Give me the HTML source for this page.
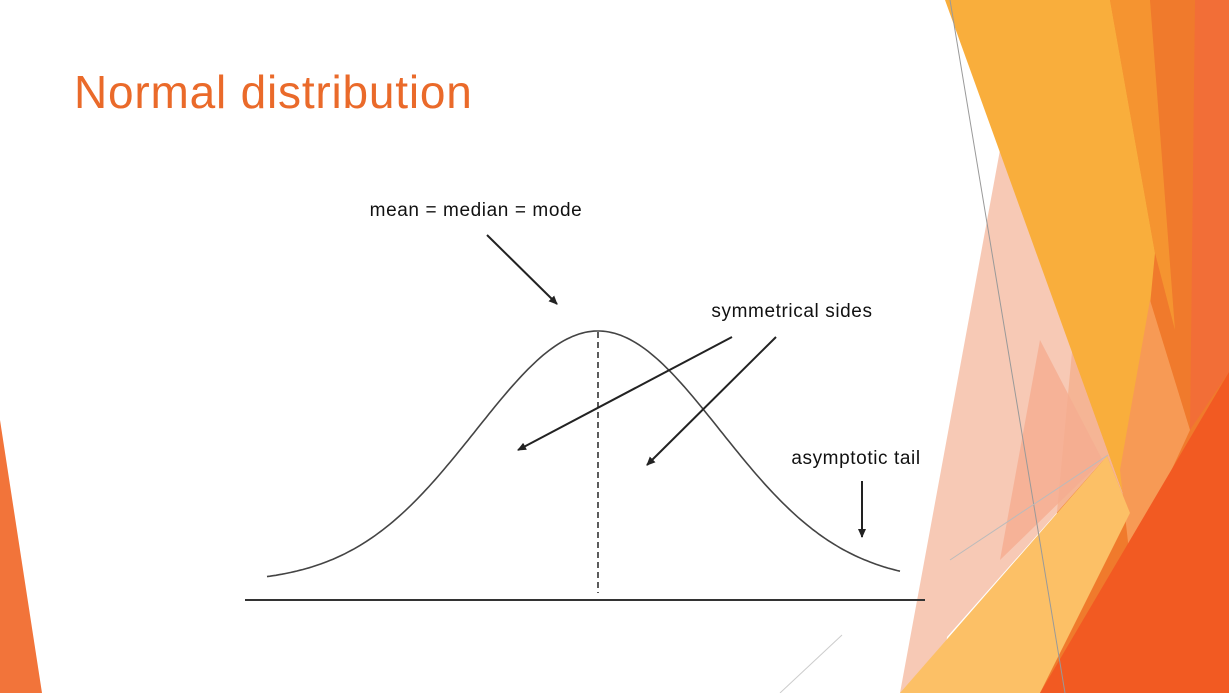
<!DOCTYPE html>
<html><head><meta charset="utf-8"><style>
html,body{margin:0;padding:0;background:#fff;}
body{width:1229px;height:693px;overflow:hidden;position:relative;font-family:"Liberation Sans",sans-serif;}
svg{position:absolute;left:0;top:0;}
</style></head><body>
<svg width="1229" height="693" viewBox="0 0 1229 693">
<defs><marker id="a" markerWidth="10" markerHeight="10" refX="8" refY="5" orient="auto" markerUnits="userSpaceOnUse"><path d="M0,1 L9,5 L0,9 Z" fill="#222"/></marker></defs>
<polygon points="0,420 42,693 0,693" fill="#F2743A"/>
<!-- right decorations -->
<polygon points="1105,0 1229,0 1229,693 1040,693" fill="#F07A2C"/>
<polygon points="1195,0 1229,0 1229,372 1190,430" fill="#F26E37"/>
<polygon points="1000,150 1130,513 1107,456 947,637 940,693 900,693" fill="#F6C0A8" opacity="0.85"/>
<polygon points="1040,340 1130,513 1107,456 1000,560" fill="#F5AC90" opacity="0.8"/>
<polygon points="945,0 1110,0 1155,253 1130,513" fill="#F9AE3C"/>
<polygon points="1110,0 1155,253 1175,330 1150,0" fill="#F6A032" opacity="0.7"/>
<polygon points="1150,300 1190,430 1130,560 1120,470" fill="#F79A55"/>
<polygon points="900,693 1107,456 1130,513 1040,693" fill="#FCC066"/>
<polygon points="1040,693 1229,372 1229,693" fill="#F25A22"/>
<line x1="950" y1="0" x2="1065" y2="693" stroke="#999" stroke-width="1"/>
<line x1="950" y1="560" x2="1108" y2="455" stroke="#bbb" stroke-width="1"/>
<line x1="780" y1="693" x2="842" y2="635" stroke="#ccc" stroke-width="1"/>
<text x="74" y="108" font-size="46" letter-spacing="0.8" fill="#EA6A2A" font-family="Liberation Sans, sans-serif">Normal distribution</text>
<line x1="245" y1="600" x2="925" y2="600" stroke="#333" stroke-width="2"/>
<path id="curve" fill="none" stroke="#444" stroke-width="1.6" d=""/>
<line x1="598" y1="332" x2="598" y2="593" stroke="#333" stroke-width="1.6" stroke-dasharray="6,4"/>
<line x1="487" y1="235" x2="557" y2="304" stroke="#222" stroke-width="2" marker-end="url(#a)"/>
<line x1="732" y1="337" x2="518" y2="450" stroke="#222" stroke-width="2" marker-end="url(#a)"/>
<line x1="776" y1="337" x2="647" y2="465" stroke="#222" stroke-width="2" marker-end="url(#a)"/>
<line x1="862" y1="481" x2="862" y2="537" stroke="#222" stroke-width="2" marker-end="url(#a)"/>
<text x="476" y="216" font-size="19" letter-spacing="0.6" fill="#111" text-anchor="middle">mean = median = mode</text>
<text x="792" y="317" font-size="19" letter-spacing="0.6" fill="#111" text-anchor="middle">symmetrical sides</text>
<text x="856" y="464" font-size="19" letter-spacing="0.6" fill="#111" text-anchor="middle">asymptotic tail</text>
</svg>
<script>
var d="";for(var x=267;x<=900;x+=3){var t=x-598;var y=583-252*Math.exp(-t*t/(2*122*122));d+=(x==267?"M":"L")+x+","+y.toFixed(1)+" ";}
document.getElementById("curve").setAttribute("d",d);
</script>
</body></html>
